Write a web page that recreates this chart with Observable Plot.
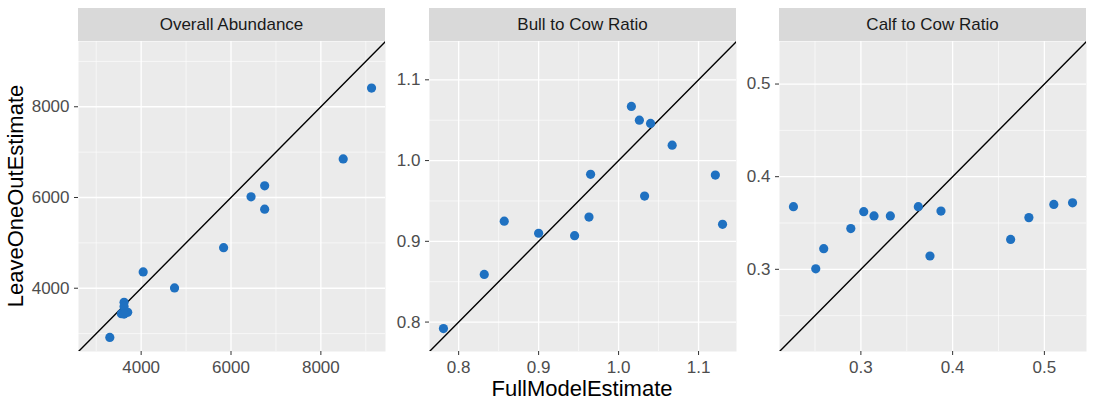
<!DOCTYPE html>
<html>
<head>
<meta charset="utf-8">
<script src="https://cdn.jsdelivr.net/npm/d3@7"></script>
<script src="https://cdn.jsdelivr.net/npm/@observablehq/plot@0.6"></script>
<style>
  body { margin: 0; background: #ffffff; font-family: "Liberation Sans", Arial, Helvetica, sans-serif; }
  #chart { position: relative; width: 1095px; height: 400px; overflow: hidden; }
  .strip { position: absolute; background: #d9d9d9; color: #1a1a1a; font-size: 17px; text-align: center; }
  .panel { position: absolute; }
  .xtitle { position: absolute; color: #000; font-size: 22px; white-space: nowrap; transform: translate(-50%, -50%); }
  .ytitle { position: absolute; color: #000; font-size: 22px; white-space: nowrap; transform: translate(-50%, -50%) rotate(-90deg); }
</style>
</head>
<body>
<div id="chart"></div>
<script>
// ---- data ----
const facetTitles = ["Overall Abundance", "Bull to Cow Ratio", "Calf to Cow Ratio"];
const xTitle = "FullModelEstimate";
const yTitle = "LeaveOneOutEstimate";

const abundanceFull = [9128, 8497, 6749, 6446, 6749, 5835, 4045, 4743, 3302, 3620, 3620, 3560, 3700, 3620];
const abundanceLoo  = [8411, 6850, 6257, 6015, 5743, 4894, 4359, 4007, 2916, 3690, 3600, 3440, 3470, 3430];

const bullFull = [0.781, 0.832, 0.857, 0.900, 0.945, 0.963, 0.965, 1.016, 1.026, 1.040, 1.067, 1.0325, 1.121, 1.130];
const bullLoo  = [0.792, 0.859, 0.925, 0.910, 0.907, 0.930, 0.983, 1.067, 1.050, 1.046, 1.019, 0.956, 0.982, 0.921];

const calfFull = [0.2265, 0.2508, 0.2595, 0.289, 0.3031, 0.3143, 0.3321, 0.3626, 0.3873, 0.3753, 0.4632, 0.4831, 0.5103, 0.5307];
const calfLoo  = [0.3676, 0.3005, 0.3223, 0.344, 0.3622, 0.3576, 0.3576, 0.3676, 0.3629, 0.3144, 0.3323, 0.3558, 0.3700, 0.3718];

const abundanceMajor = [4000, 6000, 8000];
const abundanceMinor = [3000, 5000, 7000, 9000];
const bullMajor = [0.8, 0.9, 1.0, 1.1];
const bullMinor = [0.75, 0.85, 0.95, 1.05, 1.15];
const calfMajor = [0.3, 0.4, 0.5];
const calfMinor = [0.25, 0.35, 0.45, 0.55];

// ---- build ----
const facets = [
  { title: facetTitles[0], xs: abundanceFull, ys: abundanceLoo, major: abundanceMajor, minor: abundanceMinor, fmt: d3.format("d") },
  { title: facetTitles[1], xs: bullFull, ys: bullLoo, major: bullMajor, minor: bullMinor, fmt: d3.format(".1f") },
  { title: facetTitles[2], xs: calfFull, ys: calfLoo, major: calfMajor, minor: calfMinor, fmt: d3.format(".1f") }
];

const chart = document.getElementById("chart");
const panelLefts = [78, 429, 779];
const panelTop = 41, panelW = 307, panelH = 310, stripTop = 8;
const mL = 60, mR = 6, mB = 30;

facets.forEach((f, i) => {
  const rows = f.xs.map((x, k) => ({ x, y: f.ys[k] }));
  const all = f.xs.concat(f.ys);
  const [lo, hi] = d3.extent(all);
  const pad = (hi - lo) * 0.05;
  const domain = [lo - pad, hi + pad];
  const diag = [{ v: domain[0] }, { v: domain[1] }];
  const inside = v => v >= domain[0] && v <= domain[1];

  const svg = Plot.plot({
    width: mL + panelW + mR,
    height: panelH + mB,
    marginLeft: mL, marginRight: mR, marginTop: 0, marginBottom: mB,
    x: { domain, label: null },
    y: { domain, label: null },
    style: { fontFamily: "'Liberation Sans', Arial, Helvetica, sans-serif", fontSize: "17px", color: "#4d4d4d", background: "transparent", overflow: "visible" },
    marks: [
      Plot.frame({ fill: "#ebebeb", stroke: null }),
      Plot.ruleX(f.minor.filter(inside), { stroke: "#ffffff", strokeWidth: 0.6 }),
      Plot.ruleY(f.minor.filter(inside), { stroke: "#ffffff", strokeWidth: 0.6 }),
      Plot.ruleX(f.major, { stroke: "#ffffff", strokeWidth: 1.3 }),
      Plot.ruleY(f.major, { stroke: "#ffffff", strokeWidth: 1.3 }),
      Plot.line(diag, { x: "v", y: "v", stroke: "#000000", strokeWidth: 1.4, clip: true }),
      Plot.dot(rows, { x: "x", y: "y", r: 4.6, fill: "#1f71c1", stroke: null }),
      Plot.axisX(f.major, { tickSize: 4, tickPadding: 5, tickFormat: f.fmt, label: null, fontSize: 17, stroke: "#333333" }),
      Plot.axisY(f.major, { tickSize: 4, tickPadding: 5, tickFormat: f.fmt, label: null, fontSize: 17, stroke: "#333333" })
    ]
  });
  svg.classList.add("panel");
  svg.style.left = (panelLefts[i] - mL) + "px";
  svg.style.top = panelTop + "px";
  chart.appendChild(svg);

  const strip = document.createElement("div");
  strip.className = "strip";
  strip.style.left = panelLefts[i] + "px";
  strip.style.top = stripTop + "px";
  strip.style.width = panelW + "px";
  strip.style.height = (panelTop - stripTop) + "px";
  strip.style.lineHeight = (panelTop - stripTop) + "px";
  strip.textContent = f.title;
  chart.appendChild(strip);
});

const xt = document.createElement("div");
xt.className = "xtitle";
xt.style.left = "582px";
xt.style.top = "389px";
xt.textContent = xTitle;
chart.appendChild(xt);

const yt = document.createElement("div");
yt.className = "ytitle";
yt.style.left = "16px";
yt.style.top = "196px";
yt.textContent = yTitle;
chart.appendChild(yt);
</script>
</body>
</html>
